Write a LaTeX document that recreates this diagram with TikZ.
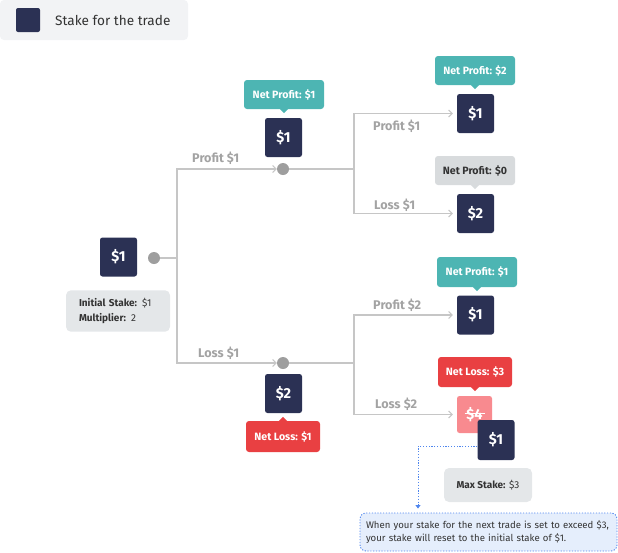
\documentclass[tikz,border=0pt]{standalone}
\usepackage{fontspec}
\setmainfont{Fira Sans}
\usetikzlibrary{arrows.meta}
\definecolor{darkc}{HTML}{2B3154}
\definecolor{tealc}{HTML}{4DB5B3}
\definecolor{redc}{HTML}{E94042}
\definecolor{pinkc}{HTML}{F88A8F}
\definecolor{infoc}{HTML}{E4E7E9}
\definecolor{zeroc}{HTML}{D8DBDD}
\definecolor{legc}{HTML}{F2F3F5}
\definecolor{linec}{HTML}{C6C6C6}
\definecolor{lblc}{HTML}{A3A3A3}
\definecolor{dotc}{HTML}{9E9E9E}
\definecolor{bluec}{HTML}{4F86EE}
\definecolor{notec}{HTML}{E5EEFC}
\definecolor{txtc}{HTML}{333333}
\begin{document}
\begin{tikzpicture}[x=1pt,y=-1pt,
 stakebox/.style={fill=darkc, rounded corners=2.5pt, minimum width=37pt, minimum height=39pt, inner sep=0pt, text=white, font=\fontsize{14.5}{16}\selectfont\bfseries},
 tag/.style={rounded corners=3pt, minimum height=29pt, inner sep=0pt, text=white, font=\fontsize{10.6}{12}\selectfont\bfseries},
 conn/.style={draw=linec, line width=1.2pt},
 arr/.style={conn, -{Straight Barb[length=3.5pt,width=7pt,line width=1pt]}},
 dot/.style={circle, fill=dotc, minimum size=12pt, inner sep=0pt},
 lbl/.style={text=lblc, font=\fontsize{12.6}{14}\selectfont\bfseries, anchor=west, inner sep=0pt},
 infobox/.style={fill=infoc, rounded corners=5pt, text=txtc, font=\fontsize{10}{15}\selectfont},
]
\useasboundingbox (0,0) rectangle (618,552);
% legend
\node[fill=legc, rounded corners=4pt, minimum width=188pt, minimum height=40pt, inner sep=0pt] (legbg) at (94,20) {};
\node[fill=darkc, rounded corners=2pt, minimum size=24pt, inner sep=0pt] (legsq) at (28,20) {};
\node[anchor=west, inner sep=0pt, text=txtc, font=\fontsize{13.6}{15}\selectfont] (legtx) at (55,20) {Stake for the trade};

% root
\node[stakebox] (b1) at (118.5,257) {\$1};
\node[dot] (c1) at (154,258) {};
\coordinate (j1) at (177,258);
\node[infobox, align=left, text width=78pt, inner xsep=13pt, inner ysep=8pt] (info1) at (118,311) {\textbf{Initial Stake:} \$1\\\textbf{Multiplier:} 2};

% middle upper
\node[dot] (c2) at (283,169) {};
\node[stakebox] (b2) at (283.5,137.5) {\$1};
\node[tag, fill=tealc, minimum width=80pt] (np1) at (284,94.5) {Net Profit: \$1};
\fill[tealc] ([xshift=-4pt]np1.south) -- ([xshift=4pt]np1.south) -- ([yshift=-4pt]np1.south) -- cycle;
\coordinate (j2) at (354,169);

% right upper pair
\node[stakebox] (b3) at (475.5,113.5) {\$1};
\node[tag, fill=tealc, minimum width=80pt] (np2) at (475,70.5) {Net Profit: \$2};
\fill[tealc] ([xshift=-4pt]np2.south) -- ([xshift=4pt]np2.south) -- ([yshift=-4pt]np2.south) -- cycle;
\node[stakebox] (b4) at (475.5,213.5) {\$2};
\node[tag, fill=zeroc, text=txtc, minimum width=80pt] (np0) at (475,170.5) {Net Profit: \$0};
\fill[zeroc] ([xshift=-4pt]np0.south) -- ([xshift=4pt]np0.south) -- ([yshift=-4pt]np0.south) -- cycle;

% middle lower
\node[dot] (c3) at (283,363) {};
\node[stakebox] (b5) at (283.5,393.5) {\$2};
\node[tag, fill=redc, minimum width=74pt, minimum height=31pt] (nl1) at (283,436.5) {Net Loss: \$1};
\fill[redc] ([xshift=-4pt]nl1.north) -- ([xshift=4pt]nl1.north) -- ([yshift=4pt]nl1.north) -- cycle;
\coordinate (j3) at (354,363);

% right lower pair
\node[stakebox] (b6) at (475.5,315) {\$1};
\node[tag, fill=tealc, minimum width=80pt, minimum height=30pt] (np3) at (477,272) {Net Profit: \$1};
\fill[tealc] ([xshift=-4pt]np3.south) -- ([xshift=4pt]np3.south) -- ([yshift=-4pt]np3.south) -- cycle;
\node[stakebox, fill=pinkc, minimum width=35pt, minimum height=37pt] (b7) at (474.5,414.5) {\$4};
\draw[white, line width=1pt] ([xshift=-10pt,yshift=1.5pt]b7.center) -- ([xshift=10pt,yshift=1.5pt]b7.center);
\node[tag, fill=redc, minimum width=74pt, minimum height=30pt] (nl3) at (475,372) {Net Loss: \$3};
\fill[redc] ([xshift=-4pt]nl3.south) -- ([xshift=4pt]nl3.south) -- ([yshift=-4pt]nl3.south) -- cycle;
\node[stakebox, minimum height=40pt] (b8) at (496,440) {\$1};

% max stake and note
\node[infobox, minimum width=88pt, minimum height=34pt, inner sep=0pt] (maxs) at (488,485) {\textbf{Max Stake:} \$3};
\node[fill=notec, draw=bluec, line width=0.9pt, dash pattern=on 1.2pt off 1.6pt, rounded corners=6pt, minimum width=257pt, minimum height=38pt, text width=245pt, inner xsep=6pt, align=left, text=txtc, font=\fontsize{9.6}{13}\selectfont] (note) at (488.5,532) {When your stake for the next trade is set to exceed \$3,\\your stake will reset to the initial stake of \$1.};
\coordinate (k1) at (418,446);
\draw[bluec, line width=0.9pt, dash pattern=on 1.2pt off 1.6pt, -{Triangle[length=3.5pt,width=5pt]}, shorten >=4pt] ([yshift=-6pt]b8.west) -- (k1) -- (k1 |- note.north);

% connectors
\draw[conn] (c1) -- (j1);
\draw[arr] (j1) |- (c2);
\draw[arr] (j1) |- (c3);
\draw[conn] (c2) -- (j2);
\draw[arr, shorten >=4pt] (j2) |- (b3.west);
\draw[arr, shorten >=4pt] (j2) |- (b4.west);
\draw[conn] (c3) -- (j3);
\draw[arr, shorten >=4pt] (j3) |- (b6.west);
\draw[arr, shorten >=4pt] (j3) |- (b7.west);

% labels
\node[lbl] (l1) at (192,158) {Profit \$1};
\node[lbl] (l2) at (198,353) {Loss \$1};
\node[lbl] (l3) at (373,126) {Profit \$1};
\node[lbl] (l4) at (374,205) {Loss \$1};
\node[lbl] (l5) at (373,305) {Profit \$2};
\node[lbl] (l6) at (375,404) {Loss \$2};
\end{tikzpicture}
\end{document}
